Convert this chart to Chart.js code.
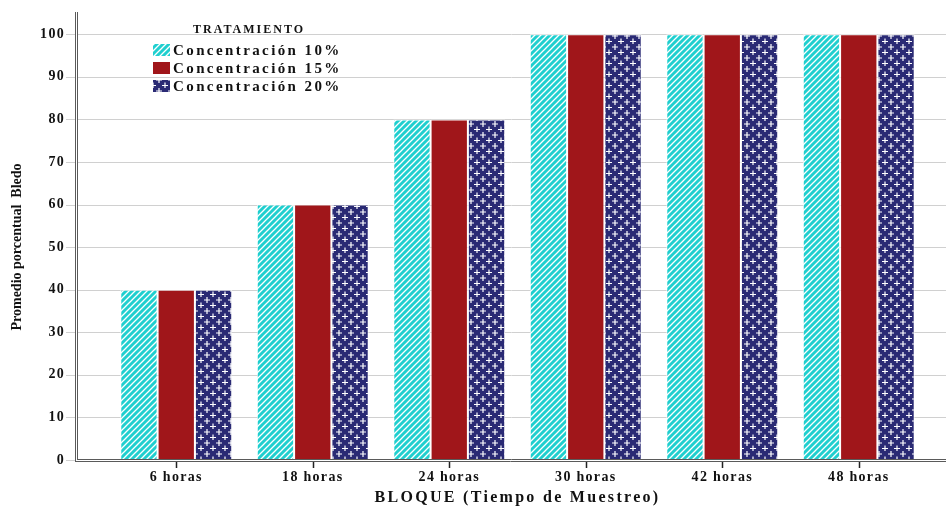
<!DOCTYPE html>
<html lang="es">
<head>
<meta charset="UTF-8" />
<title>Promedio porcentual Bledo</title>
<script src="https://cdn.jsdelivr.net/npm/chart.js"></script>
<style>
  body { margin: 0; background: #fff; }
  canvas { display: block; }
</style>
</head>
<body>
<canvas id="chart" width="946" height="508"></canvas>
<script>
  const categories = ['6 horas', '18 horas', '24 horas', '30 horas', '42 horas', '48 horas'];
  const conc10 = [40, 60, 80, 100, 100, 100];
  const conc15 = [40, 60, 80, 100, 100, 100];
  const conc20 = [40, 60, 80, 100, 100, 100];
  const seriesLabels = ['Concentración 10%', 'Concentración 15%', 'Concentración 20%'];
  const legendTitle = 'TRATAMIENTO';
  const xTitle = 'BLOQUE (Tiempo de Muestreo)';
  const yTitle = 'Promedio porcentual  Bledo';

  const SERIF = "'Liberation Serif', 'Times New Roman', serif";
  const CYAN = '#1fcfcf';
  const RED = '#a0161a';
  const NAVY = '#2a2a74';

  const canvas = document.getElementById('chart');
  const ctx = canvas.getContext('2d');

  // hatch fills like the original: white diagonal stripes / white crosses
  function stripePattern() {
    const c = document.createElement('canvas');
    c.width = 6; c.height = 6;
    const g = c.getContext('2d');
    g.fillStyle = CYAN;
    g.fillRect(0, 0, 6, 6);
    g.strokeStyle = '#ffffff';
    g.lineWidth = 1.3;
    g.beginPath();
    g.moveTo(0, 6); g.lineTo(6, 0);
    g.moveTo(-3, 3); g.lineTo(3, -3);
    g.moveTo(3, 9); g.lineTo(9, 3);
    g.stroke();
    return ctx.createPattern(c, 'repeat');
  }

  function crossPattern() {
    const c = document.createElement('canvas');
    c.width = 12; c.height = 11;
    const g = c.getContext('2d');
    g.fillStyle = NAVY;
    g.fillRect(0, 0, 12, 11);
    g.strokeStyle = '#ffffff';
    g.lineWidth = 1.2;
    g.beginPath();
    [[3, 3], [9, 8.5]].forEach(([cx, cy]) => {
      g.moveTo(cx - 3, cy); g.lineTo(cx + 3, cy);
      g.moveTo(cx, cy - 3); g.lineTo(cx, cy + 3);
    });
    g.stroke();
    return ctx.createPattern(c, 'repeat');
  }

  const framePlugin = {
    id: 'frame',
    beforeDraw(chart) {
      chart.ctx.letterSpacing = '1.3px';
    },
    beforeDatasetsDraw(chart) {
      const c = chart.ctx;
      const y = chart.scales.y;
      c.save();
      c.strokeStyle = '#d0d0d0';
      c.lineWidth = 1;
      y.ticks.forEach(t => {
        const py = Math.round(y.getPixelForValue(t.value)) + 0.5;
        c.beginPath();
        if (t.value !== 0) { c.moveTo(77, py); c.lineTo(946, py); }
        c.moveTo(66, py); c.lineTo(75, py);
        c.stroke();
      });
      c.restore();
    },
    afterDatasetsDraw(chart) {
      const c = chart.ctx;
      const x = chart.scales.x;
      const area = chart.chartArea;
      c.save();
      c.strokeStyle = '#5a5a5a';
      c.lineWidth = 1;
      c.beginPath();
      c.moveTo(75.5, 12); c.lineTo(75.5, area.bottom + 1.5);
      c.moveTo(77.5, 12); c.lineTo(77.5, area.bottom - 0.5);
      c.moveTo(75, area.bottom + 1.5); c.lineTo(946, area.bottom + 1.5);
      c.moveTo(77, area.bottom - 0.5); c.lineTo(946, area.bottom - 0.5);
      c.stroke();
      c.strokeStyle = '#222222';
      c.lineWidth = 1.5;
      c.beginPath();
      categories.forEach((_, i) => {
        const px = Math.round(x.getPixelForTick(i)) + 0.5;
        c.moveTo(px, area.bottom + 2); c.lineTo(px, area.bottom + 8);
      });
      c.stroke();
      c.restore();
    },
    afterDraw(chart) {
      const c = chart.ctx;
      const area = chart.chartArea;
      c.save();
      c.fillStyle = '#111111';

      // axis titles
      c.letterSpacing = '2.3px';
      c.font = 'bold 16px ' + SERIF;
      c.textAlign = 'center';
      c.textBaseline = 'middle';
      c.fillText(xTitle, (area.left + area.right) / 2, 498);

      c.letterSpacing = '0px';
      c.font = 'bold 14px ' + SERIF;
      c.save();
      c.translate(17, 247);
      c.rotate(-Math.PI / 2);
      c.fillText(yTitle, 0, 0);
      c.restore();

      // legend
      c.letterSpacing = '2px';
      c.font = 'bold 12px ' + SERIF;
      c.fillText(legendTitle, 249, 30);
      c.textAlign = 'left';
      c.letterSpacing = '2.4px';
      c.font = 'bold 15px ' + SERIF;
      chart.data.datasets.forEach((ds, i) => {
        const cy = 50 + i * 18;
        c.fillStyle = ds.backgroundColor;
        c.fillRect(153, cy - 6, 17, 12);
        c.fillStyle = '#111111';
        c.fillText(ds.label, 173, cy + 1);
      });
      c.restore();
    }
  };

  new Chart(ctx, {
    type: 'bar',
    data: {
      labels: categories,
      datasets: [
        { label: seriesLabels[0], data: conc10, backgroundColor: stripePattern() },
        { label: seriesLabels[1], data: conc15, backgroundColor: RED },
        { label: seriesLabels[2], data: conc20, backgroundColor: crossPattern() }
      ]
    },
    options: {
      responsive: false,
      animation: false,
      layout: { padding: { top: 13, right: 19, left: 0, bottom: 0 } },
      datasets: {
        bar: {
          categoryPercentage: 0.82,
          barPercentage: 1,
          borderWidth: 1,
          borderColor: 'rgba(255,255,255,0.75)'
        }
      },
      plugins: {
        legend: { display: false },
        tooltip: { enabled: false }
      },
      scales: {
        x: {
          grid: { display: false, drawTicks: false },
          border: { display: false },
          ticks: {
            autoSkip: false,
            maxRotation: 0,
            padding: 9,
            color: '#111111',
            font: { family: SERIF, size: 14, weight: 'bold' }
          },
          afterFit(scale) { scale.height = 48; }
        },
        y: {
          min: 0,
          max: 105,
          grid: { display: false, drawTicks: false },
          border: { display: false },
          ticks: {
            stepSize: 10,
            padding: 43,
            color: '#111111',
            font: { family: SERIF, size: 14, weight: 'bold' }
          },
          afterBuildTicks(scale) { scale.ticks = scale.ticks.filter(t => t.value <= 100); },
          afterFit(scale) {
            scale.width = 108;
            scale.paddingTop = 0;
            scale.paddingBottom = 0;
          }
        }
      }
    },
    plugins: [framePlugin]
  });
</script>
</body>
</html>
